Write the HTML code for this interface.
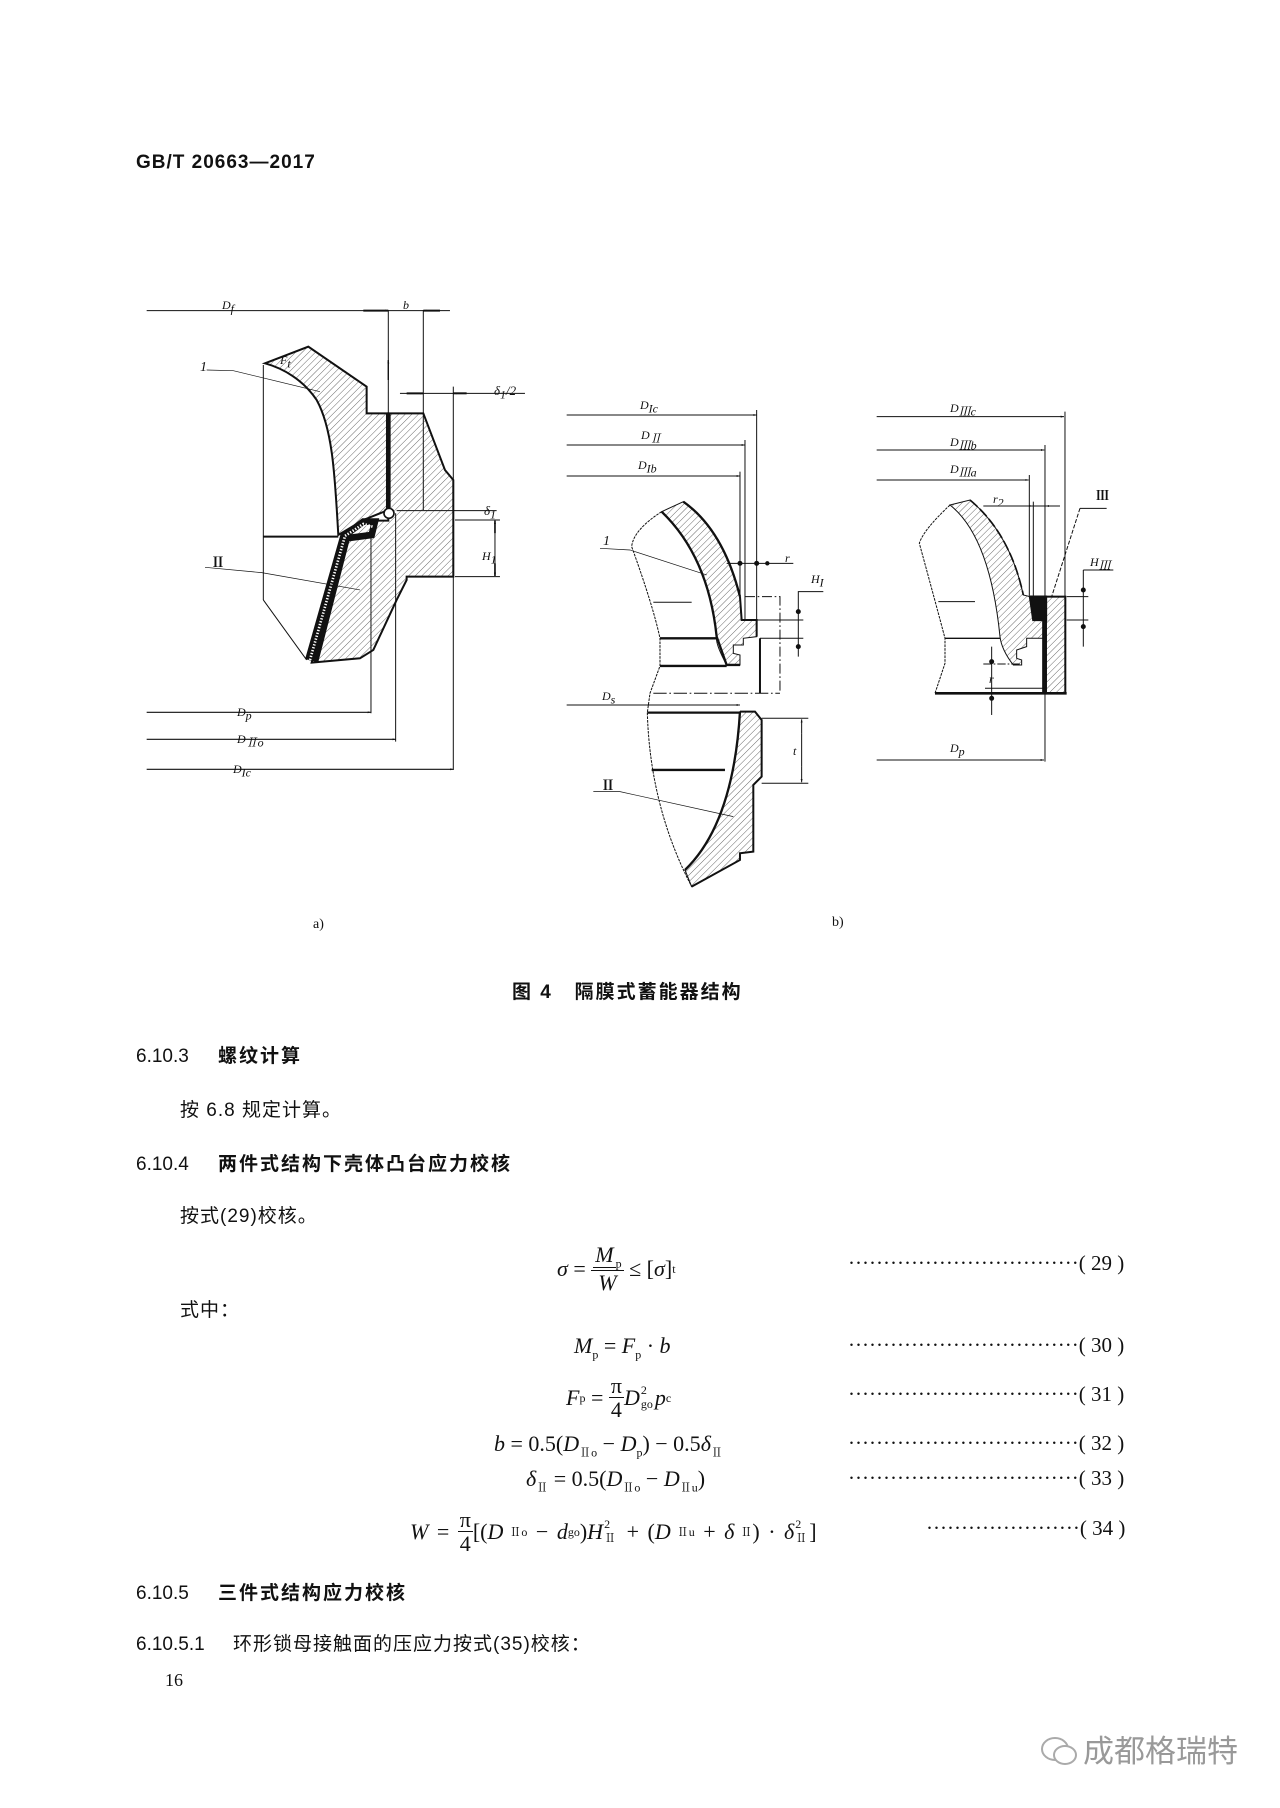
<!DOCTYPE html>
<html><head><meta charset="utf-8"><style>
body{margin:0;background:#fff;}
#p{position:relative;width:1280px;height:1808px;overflow:hidden;background:#fff;color:#111;font-family:"Liberation Sans","Noto Sans CJK SC",sans-serif;}
.t{position:absolute;white-space:nowrap;line-height:1;}
.b{font-weight:bold;}
.m{font-family:"Liberation Serif","Noto Serif CJK SC",serif;font-size:21px;}
.i{font-style:italic;}
.fr{display:inline-flex;flex-direction:column;align-items:center;vertical-align:middle;line-height:1.05;}
.fr span:first-child{border-bottom:1.5px solid #111;padding:0 2px;}
sub,sup{font-size:12px;}
.ss{display:inline-flex;flex-direction:column;vertical-align:middle;font-size:12px;line-height:1.1;margin:0 2px 0 1px;}
.d{font-family:"Liberation Serif",serif;font-size:21px;letter-spacing:0px;}
</style></head><body><div id="p">
<svg width="1280" height="1808" style="position:absolute;left:0;top:0" xmlns="http://www.w3.org/2000/svg">
<defs>
<pattern id="h" width="14" height="14" patternUnits="userSpaceOnUse" patternTransform="rotate(45)"><line x1="0" y1="0" x2="0" y2="14" stroke="#222" stroke-width="2"/></pattern>
<marker id="ar" viewBox="0 0 10 6" refX="10" refY="3" markerWidth="10" markerHeight="6" orient="auto-start-reverse" markerUnits="userSpaceOnUse"><path d="M0,0L10,3L0,6Z" fill="#111"/></marker>
</defs>
<!-- Figure a -->
<g transform="translate(130,280) scale(0.3333)" fill="none" stroke="#111" stroke-width="3">
<line x1="50" y1="92" x2="960" y2="92"/>
<line x1="700" y1="92" x2="775" y2="92" stroke-width="6" marker-end="url(#ar)"/>
<line x1="930" y1="92" x2="880" y2="92" stroke-width="6" marker-end="url(#ar)"/>
<line x1="775" y1="90" x2="775" y2="700"/>
<line x1="880" y1="90" x2="880" y2="690"/>
<line x1="810" y1="340" x2="1185" y2="340"/>
<line x1="830" y1="340" x2="880" y2="340" stroke-width="6" marker-end="url(#ar)"/>
<line x1="1010" y1="340" x2="970" y2="340" stroke-width="6" marker-end="url(#ar)"/>
<line x1="970" y1="320" x2="970" y2="1470"/>
<line x1="800" y1="692" x2="1100" y2="692"/>
<line x1="975" y1="720" x2="1110" y2="720"/>
<line x1="975" y1="890" x2="1110" y2="890"/>
<line x1="1095" y1="760" x2="1095" y2="722" stroke-width="5" marker-end="url(#ar)"/>
<line x1="1095" y1="850" x2="1095" y2="888" stroke-width="5" marker-end="url(#ar)"/>
<line x1="1095" y1="760" x2="1095" y2="850"/>
<line x1="50" y1="1297" x2="723" y2="1297" stroke-width="3.5" marker-end="url(#ar)"/>
<line x1="723" y1="720" x2="723" y2="1300"/>
<line x1="50" y1="1378" x2="797" y2="1378" stroke-width="3.5" marker-end="url(#ar)"/>
<line x1="797" y1="700" x2="797" y2="1385"/>
<line x1="50" y1="1468" x2="970" y2="1468" stroke-width="3.5" marker-end="url(#ar)"/>
<line x1="775" y1="300" x2="775" y2="240" stroke-width="4" marker-end="url(#ar)"/>
<path d="M405,250 L535,200 L710,320 L710,400 L775,400 L775,690 L700,720 L625,765 C615,600 610,450 560,360 C520,300 460,265 405,250 Z" fill="url(#h)" stroke-width="6"/>
<path d="M775,400 L880,400 L945,570 L970,600 L970,890 L830,890 L830,900 L800,960 L730,1110 L690,1135 L545,1148 L640,770 L700,722 L775,722 Z" fill="url(#h)" stroke-width="6"/>
<line x1="775" y1="400" x2="775" y2="690" stroke-width="14"/>
<path d="M535,1140 L640,770 L700,725 L735,725 L725,765 L650,775 L555,1145" stroke-width="20"/>
<path d="M540,1140 L645,768 L700,732 L728,740" stroke="#fff" stroke-width="8" stroke-dasharray="4 5"/>
<circle cx="777" cy="700" r="15" fill="#fff" stroke-width="5"/>
<line x1="400" y1="770" x2="625" y2="770" stroke-width="6"/>
<line x1="400" y1="255" x2="400" y2="960"/>
<line x1="400" y1="960" x2="530" y2="1140"/>
<polyline points="230,270 310,272 570,335" stroke-width="2"/>
<polyline points="225,862 395,878 690,930" stroke-width="2"/>
</g>
<!-- Figure b left -->
<g transform="translate(560,390) scale(0.3333)" fill="none" stroke="#111" stroke-width="3">
<line x1="20" y1="75" x2="590" y2="75" marker-end="url(#ar)"/>
<line x1="590" y1="60" x2="590" y2="690"/>
<line x1="20" y1="165" x2="555" y2="165" marker-end="url(#ar)"/>
<line x1="555" y1="150" x2="555" y2="690"/>
<line x1="20" y1="258" x2="540" y2="258" marker-end="url(#ar)"/>
<line x1="540" y1="245" x2="540" y2="620"/>
<line x1="500" y1="520" x2="700" y2="520"/>
<circle cx="540" cy="520" r="6" fill="#111"/><circle cx="590" cy="520" r="6" fill="#111"/><circle cx="622" cy="520" r="5" fill="#111"/>
<line x1="590" y1="690" x2="730" y2="690"/><line x1="600" y1="745" x2="730" y2="745"/>
<polyline points="715,800 715,605 790,605"/>
<circle cx="715" cy="665" r="6" fill="#111"/><circle cx="715" cy="770" r="6" fill="#111"/>
<path d="M305,365 L370,335 Q490,420 540,620 L545,690 L590,690 L590,740 L550,745 L550,765 L520,765 L520,790 L540,795 L540,825 L500,825 Q465,760 470,740 Q445,500 305,365 Z" fill="url(#h)" stroke-width="3"/>
<path d="M370,335 Q490,420 540,620" stroke-width="7"/>
<path d="M305,365 Q445,500 470,740 L500,825 L540,825" stroke-width="7"/>
<polyline points="540,620 545,690 590,690 590,740" stroke-width="6"/>
<polyline points="555,620 660,620 660,910" stroke-dasharray="30 8 5 8"/>
<line x1="280" y1="910" x2="660" y2="910" stroke-dasharray="40 8 5 8"/>
<line x1="600" y1="745" x2="600" y2="910" stroke-width="6"/>
<line x1="300" y1="745" x2="470" y2="745" stroke-width="7"/>
<line x1="300" y1="828" x2="500" y2="828" stroke-width="7"/>
<line x1="280" y1="637" x2="395" y2="637"/>
<path d="M305,365 Q220,420 215,470 Q280,650 300,745 L300,828 L270,910 L262,968" stroke-dasharray="8 3"/>
<line x1="20" y1="945" x2="540" y2="945" marker-end="url(#ar)"/>
<path d="M540,965 L585,965 L605,990 L605,1160 L580,1185 L580,1385 L540,1390 L540,1410 L395,1490 L375,1440 Q520,1300 540,965 Z" fill="url(#h)" stroke-width="3"/>
<path d="M540,965 Q520,1300 375,1440" stroke-width="7"/>
<polyline points="540,965 585,965 605,990 605,1160 580,1185 580,1385 540,1390 540,1410 395,1490" stroke-width="6"/>
<line x1="262" y1="968" x2="540" y2="968" stroke-width="7"/>
<line x1="275" y1="1140" x2="495" y2="1140" stroke-width="7"/>
<path d="M262,968 Q270,1250 395,1490" stroke-dasharray="8 3"/>
<line x1="605" y1="985" x2="745" y2="985"/><line x1="605" y1="1180" x2="745" y2="1180"/>
<line x1="725" y1="1030" x2="725" y2="988" marker-end="url(#ar)"/><line x1="725" y1="1130" x2="725" y2="1177" marker-end="url(#ar)"/><line x1="725" y1="1030" x2="725" y2="1130"/>
<polyline points="120,475 210,480 440,555" stroke-width="2"/>
<polyline points="100,1205 180,1205 520,1280" stroke-width="2"/>
</g>
<!-- Figure b right -->
<g transform="translate(870,390) scale(0.3333)" fill="none" stroke="#111" stroke-width="3">
<line x1="20" y1="80" x2="582" y2="80" marker-end="url(#ar)"/>
<line x1="585" y1="65" x2="585" y2="910"/>
<line x1="20" y1="180" x2="523" y2="180" marker-end="url(#ar)"/>
<line x1="525" y1="165" x2="525" y2="1115"/>
<line x1="20" y1="270" x2="476" y2="270" marker-end="url(#ar)"/>
<line x1="478" y1="255" x2="478" y2="620"/><line x1="490" y1="335" x2="490" y2="620"/>
<line x1="340" y1="348" x2="570" y2="348"/>
<line x1="440" y1="348" x2="488" y2="348" marker-end="url(#ar)"/><line x1="565" y1="348" x2="527" y2="348" marker-end="url(#ar)"/>
<line x1="630" y1="355" x2="710" y2="355"/>
<line x1="630" y1="355" x2="545" y2="620" stroke-dasharray="12 5"/>
<line x1="640" y1="540" x2="730" y2="540"/>
<line x1="640" y1="540" x2="640" y2="770"/>
<line x1="590" y1="620" x2="655" y2="620"/><line x1="590" y1="690" x2="655" y2="690"/>
<circle cx="640" cy="600" r="6" fill="#111"/><circle cx="640" cy="710" r="6" fill="#111"/>
<path d="M240,345 L300,330 Q420,430 460,615 L480,620 L490,690 L520,690 L520,745 L470,745 L470,770 L440,780 L440,805 L455,810 L455,825 L430,825 Q395,780 390,740 Q360,440 240,345 Z" fill="url(#h)" stroke-width="3"/>
<path d="M300,330 Q420,430 460,615" stroke-width="5" stroke-dasharray="30 10"/>
<rect x="528" y="620" width="58" height="290" fill="url(#h)" stroke-width="6"/>
<polyline points="480,620 528,620 528,690 490,690 480,620" stroke-width="7" fill="#111"/>
<line x1="520" y1="690" x2="520" y2="910" stroke-width="7"/>
<line x1="195" y1="910" x2="590" y2="910" stroke-width="8"/>
<path d="M240,345 Q160,420 148,460 Q200,650 225,745 L225,820 L195,910" stroke-dasharray="8 3"/>
<line x1="225" y1="745" x2="390" y2="745" stroke-width="4"/>
<line x1="205" y1="635" x2="315" y2="635"/>
<line x1="340" y1="822" x2="455" y2="822" stroke-dasharray="25 6 5 6"/>
<line x1="345" y1="895" x2="525" y2="895"/>
<line x1="365" y1="770" x2="365" y2="975"/>
<circle cx="365" cy="815" r="6" fill="#111"/><circle cx="365" cy="925" r="6" fill="#111"/>
<line x1="20" y1="1110" x2="522" y2="1110" marker-end="url(#ar)"/>
</g>
</svg>
<!-- dimension labels -->
<div class="t m i" style="left:222px;top:299px;font-size:12px">D<sub>f</sub></div>
<div class="t m i" style="left:403px;top:299px;font-size:12px">b</div>
<div class="t m i" style="left:280px;top:354px;font-size:12px">F<sub>t</sub></div>
<div class="t m i" style="left:200px;top:361px;font-size:14px">1</div>
<div class="t m i" style="left:494px;top:384px;font-size:13px">δ<sub>1</sub>/2</div>
<div class="t m i" style="left:484px;top:504px;font-size:13px">δ<sub>1</sub></div>
<div class="t m i" style="left:482px;top:550px;font-size:12px">H<sub>1</sub></div>
<div class="t m b" style="left:211px;top:557px;font-size:14px">Ⅱ</div>
<div class="t m i" style="left:237px;top:706px;font-size:12px">D<sub>p</sub></div>
<div class="t m i" style="left:237px;top:733px;font-size:12px">D<sub>Ⅱo</sub></div>
<div class="t m i" style="left:233px;top:763px;font-size:12px">D<sub>Ic</sub></div>
<div class="t m i" style="left:640px;top:399px;font-size:12px">D<sub>Ic</sub></div>
<div class="t m i" style="left:641px;top:429px;font-size:12px">D<sub>Ⅱ</sub></div>
<div class="t m i" style="left:638px;top:459px;font-size:12px">D<sub>Ib</sub></div>
<div class="t m i" style="left:603px;top:535px;font-size:14px">1</div>
<div class="t m i" style="left:785px;top:552px;font-size:12px">r</div>
<div class="t m i" style="left:811px;top:573px;font-size:12px">H<sub>I</sub></div>
<div class="t m i" style="left:602px;top:690px;font-size:12px">D<sub>s</sub></div>
<div class="t m i" style="left:793px;top:745px;font-size:12px">t</div>
<div class="t m b" style="left:601px;top:780px;font-size:14px">Ⅱ</div>
<div class="t m i" style="left:950px;top:402px;font-size:12px">D<sub>Ⅲc</sub></div>
<div class="t m i" style="left:950px;top:436px;font-size:12px">D<sub>Ⅲb</sub></div>
<div class="t m i" style="left:950px;top:463px;font-size:12px">D<sub>Ⅲa</sub></div>
<div class="t m i" style="left:993px;top:493px;font-size:12px">r<sub>2</sub></div>
<div class="t m b" style="left:1096px;top:489px;font-size:13px">Ⅲ</div>
<div class="t m i" style="left:1090px;top:556px;font-size:12px">H<sub>Ⅲ</sub></div>
<div class="t m i" style="left:989px;top:673px;font-size:12px">r</div>
<div class="t m i" style="left:950px;top:742px;font-size:12px">D<sub>p</sub></div>
<div class="t m" style="left:313px;top:918px;font-size:14px">a)</div>
<div class="t m" style="left:832px;top:916px;font-size:14px">b)</div>
<!-- text -->
<div class="t b" style="left:136px;top:153px;font-size:19px;letter-spacing:1px">GB/T 20663—2017</div>
<div class="t b" style="left:512px;top:983px;font-size:19px;letter-spacing:2px">图 4&nbsp;&nbsp;&nbsp;隔膜式蓄能器结构</div>
<div class="t" style="left:136px;top:1047px;font-size:19px">6.10.3</div>
<div class="t b" style="left:218px;top:1047px;font-size:19px;letter-spacing:2px">螺纹计算</div>
<div class="t" style="left:180px;top:1101px;font-size:19px;letter-spacing:1px">按 6.8 规定计算。</div>
<div class="t" style="left:136px;top:1155px;font-size:19px">6.10.4</div>
<div class="t b" style="left:218px;top:1155px;font-size:19px;letter-spacing:2px">两件式结构下壳体凸台应力校核</div>
<div class="t" style="left:180px;top:1207px;font-size:19px;letter-spacing:1px">按式(29)校核。</div>
<div class="t" style="left:180px;top:1301px;font-size:19px;letter-spacing:1px">式中：</div>
<div class="t" style="left:136px;top:1584px;font-size:19px">6.10.5</div>
<div class="t b" style="left:218px;top:1584px;font-size:19px;letter-spacing:2px">三件式结构应力校核</div>
<div class="t" style="left:136px;top:1635px;font-size:19px">6.10.5.1</div>
<div class="t" style="left:233px;top:1635px;font-size:19px;letter-spacing:1px">环形锁母接触面的压应力按式(35)校核：</div>
<div class="t m" style="left:165px;top:1671px;font-size:18px">16</div>
<!-- formulas -->
<div class="t m" style="left:557px;top:1243px;display:flex;align-items:center;font-size:22px"><span class="i">σ</span>&nbsp;=&nbsp;<span class="fr"><span><span class="i">M</span><sub>p</sub></span><span class="i">W</span></span>&nbsp;≤&nbsp;[<span class="i">σ</span>]<sup>t</sup></div>
<div class="t m" style="left:574px;top:1335px;font-size:22px"><span class="i">M</span><sub>p</sub> = <span class="i">F</span><sub>p</sub> · <span class="i">b</span></div>
<div class="t m" style="left:566px;top:1374px;display:flex;align-items:center;font-size:22px"><span class="i">F</span><sub>p</sub>&nbsp;=&nbsp;<span class="fr"><span>π</span><span>4</span></span><span class="i">D</span><span class="ss"><span>2</span><span>go</span></span><span class="i">p</span><sub>c</sub></div>
<div class="t m" style="left:494px;top:1433px;font-size:22px"><span class="i">b</span> = 0.5(<span class="i">D</span><sub>Ⅱo</sub> − <span class="i">D</span><sub>p</sub>) − 0.5<span class="i">δ</span><sub>Ⅱ</sub></div>
<div class="t m" style="left:526px;top:1468px;font-size:22px"><span class="i">δ</span><sub>Ⅱ</sub> = 0.5(<span class="i">D</span><sub>Ⅱo</sub> − <span class="i">D</span><sub>Ⅱu</sub>)</div>
<div class="t m" style="left:410px;top:1508px;display:flex;align-items:center;font-size:22px;word-spacing:3px"><span class="i">W</span>&nbsp;=&nbsp;<span class="fr"><span>π</span><span>4</span></span>[(<span class="i">D</span><sub>&nbsp;Ⅱo</sub>&nbsp;−&nbsp;<span class="i">d</span><sub>go</sub>)<span class="i">H</span><span class="ss"><span>2</span><span>Ⅱ</span></span>&nbsp;+&nbsp;(<span class="i">D</span><sub>&nbsp;Ⅱu</sub>&nbsp;+&nbsp;<span class="i">δ</span><sub>&nbsp;Ⅱ</sub>)&nbsp;·&nbsp;<span class="i">δ</span><span class="ss"><span>2</span><span>Ⅱ</span></span>]</div>
<div class="t d" style="left:848px;top:1253px">·································(&nbsp;29&nbsp;)</div>
<div class="t d" style="left:848px;top:1335px">·································(&nbsp;30&nbsp;)</div>
<div class="t d" style="left:848px;top:1384px">·································(&nbsp;31&nbsp;)</div>
<div class="t d" style="left:848px;top:1433px">·································(&nbsp;32&nbsp;)</div>
<div class="t d" style="left:848px;top:1468px">·································(&nbsp;33&nbsp;)</div>
<div class="t d" style="left:926px;top:1518px">······················(&nbsp;34&nbsp;)</div>
<!-- watermark -->
<svg style="position:absolute;left:1040px;top:1735px" width="40" height="34"><ellipse cx="15" cy="14" rx="13" ry="11" fill="none" stroke="#aaa" stroke-width="2"/><ellipse cx="25" cy="20" rx="11" ry="9" fill="#fff" stroke="#aaa" stroke-width="2"/></svg>
<div class="t" style="left:1083px;top:1736px;font-size:31px;color:#999">成都格瑞特</div>
</div></body></html>
